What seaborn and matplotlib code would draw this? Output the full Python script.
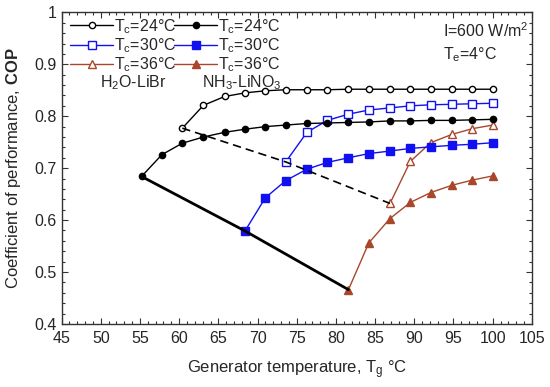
import matplotlib
matplotlib.use("Agg")
import matplotlib.pyplot as plt
import seaborn as sns
import pandas as pd
from matplotlib.ticker import MultipleLocator

# ---- data ----
tg = [55.2, 57.8, 60.4, 63.1, 65.8, 68.4, 71.0, 73.6, 76.3, 78.9,
      81.6, 84.2, 86.9, 89.5, 92.1, 94.8, 97.4, 100.0]

# H2O-LiBr (open markers)
libr_24 = [0.777, 0.821, 0.838, 0.845, 0.849, 0.851, 0.851, 0.851,
           0.852, 0.852, 0.852, 0.852, 0.852, 0.852, 0.852, 0.852]
libr_30 = [0.712, 0.769, 0.792, 0.804, 0.812, 0.816, 0.820, 0.822,
           0.823, 0.824, 0.825]
libr_36 = [0.632, 0.713, 0.749, 0.765, 0.776, 0.783]

# NH3-LiNO3 (filled markers)
nh3_24 = [0.684, 0.726, 0.748, 0.760, 0.769, 0.775, 0.780, 0.783, 0.786,
          0.787, 0.788, 0.789, 0.791, 0.791, 0.792, 0.792, 0.793, 0.794]
nh3_30 = [0.579, 0.643, 0.676, 0.698, 0.711, 0.720, 0.728, 0.733, 0.738,
          0.741, 0.744, 0.746, 0.749]
nh3_36 = [0.466, 0.556, 0.603, 0.634, 0.653, 0.667, 0.677, 0.685]

labels = ["T$_c$=24°C", "T$_c$=30°C", "T$_c$=36°C"]

sns.set_style("ticks")
plt.rcParams["font.family"] = ["Liberation Sans", "DejaVu Sans"]
plt.rcParams["mathtext.fontset"] = "custom"
plt.rcParams["mathtext.rm"] = "Liberation Sans"
plt.rcParams["mathtext.it"] = "Liberation Sans:italic"
plt.rcParams["mathtext.bf"] = "Liberation Sans:bold"
plt.rcParams["mathtext.default"] = "regular"

fig = plt.figure(figsize=(5.5, 3.87), dpi=100)
ax = fig.add_axes([0.112, 0.163, 0.855, 0.805])

black = "black"
blue = "#1010F0"
brown = "#A8472A"

def series(xs, ys, color, marker, filled, ms, label):
    df = pd.DataFrame({"x": xs, "y": ys})
    sns.lineplot(data=df, x="x", y="y", ax=ax, color=color, lw=1.0,
                 marker=marker, markersize=ms,
                 markerfacecolor=color if filled else "white",
                 markeredgecolor=color, markeredgewidth=1.0,
                 sort=False, legend=False)
    return plt.Line2D([], [], color=color, lw=1.0, marker=marker, markersize=ms,
                      markerfacecolor=color if filled else "white",
                      markeredgecolor=color, markeredgewidth=1.0, label=label)

n24, n30, n36 = len(libr_24), len(libr_30), len(libr_36)
h1 = series(tg[-n24:], libr_24, black, "o", False, 4.5, labels[0])
h2 = series(tg[-n30:], libr_30, blue, "s", False, 6, labels[1])
h3 = series(tg[-n36:], libr_36, brown, "^", False, 6, labels[2])
m24, m30, m36 = len(nh3_24), len(nh3_30), len(nh3_36)
h4 = series(tg[-m24:], nh3_24, black, "o", True, 4.5, labels[0])
h5 = series(tg[-m30:], nh3_30, blue, "s", True, 6, labels[1])
h6 = series(tg[-m36:], nh3_36, brown, "^", True, 6, labels[2])

# connecting lines through the first point of each series
sx = [tg[-n24], tg[-n30], tg[-n36]]
sy = [libr_24[0], libr_30[0], libr_36[0]]
sns.lineplot(x=sx, y=sy, ax=ax, color="black", lw=1.2, sort=False,
             legend=False).lines[-1].set_dashes((5, 3))
fx = [tg[-m24], tg[-m30], tg[-m36]]
fy = [nh3_24[0], nh3_30[0], nh3_36[0]]
sns.lineplot(x=fx, y=fy, ax=ax, color="black", lw=2.0, sort=False, legend=False)

ax.set_xlim(45, 105)
ax.set_ylim(0.4, 1.0)
ax.xaxis.set_major_locator(MultipleLocator(5))
ax.xaxis.set_minor_locator(MultipleLocator(1))
ax.yaxis.set_minor_locator(MultipleLocator(0.02))
ax.set_yticks([0.4, 0.5, 0.6, 0.7, 0.8, 0.9, 1.0])
ax.set_yticklabels(["0.4", "0.5", "0.6", "0.7", "0.8", "0.9", "1"])
ax.tick_params(which="both", direction="in", top=True, right=True,
               labelsize=11.5, width=0.8, color="#333333")
ax.tick_params(which="major", length=4)
ax.tick_params(which="minor", length=2.5)
ax.tick_params(axis="x", pad=5)
for s in ax.spines.values():
    s.set_linewidth(1.0)
    s.set_color("#333333")

ax.set_xlabel("Generator temperature, T$_g$ °C", fontsize=12, labelpad=9)
ax.set_ylabel("Coefficient of performance, $\\mathbf{COP}$", fontsize=12, labelpad=8)

leg = ax.legend(handles=[h1, h2, h3, h4, h5, h6], ncol=2, loc="upper left",
                frameon=False, fontsize=11.5, handlelength=2.7,
                handletextpad=0.05, columnspacing=-0.15, labelspacing=0.04,
                borderaxespad=0.0, borderpad=0.0, bbox_to_anchor=(0.018, 0.985))

ax.text(0.082, 0.775, "H$_2$O-LiBr", transform=ax.transAxes, fontsize=11.5,
        va="center", ha="left")
ax.text(0.298, 0.775, "NH$_3$-LiNO$_3$", transform=ax.transAxes, fontsize=11.5,
        va="center", ha="left")
ax.text(0.81, 0.94, "I=600 W/m$^2$", transform=ax.transAxes, fontsize=11.5,
        va="center", ha="left")
ax.text(0.81, 0.865, "T$_e$=4°C", transform=ax.transAxes, fontsize=11.5,
        va="center", ha="left")

fig.savefig("out.png", dpi=100)
